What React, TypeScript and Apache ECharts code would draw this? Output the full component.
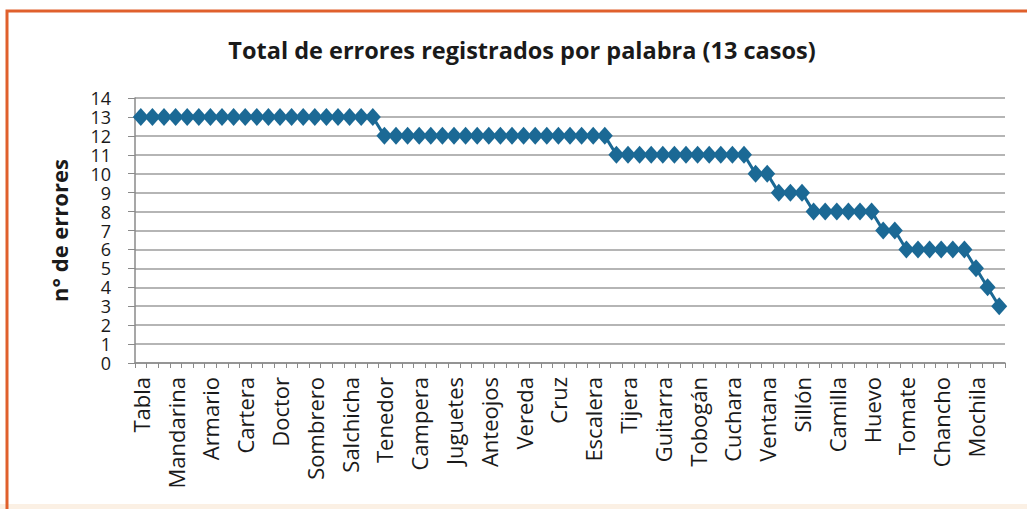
import React, { useEffect, useRef } from "react";
import * as echarts from "echarts";

const TITLE = "Total de errores registrados por palabra (13 casos)";
const Y_NAME = "n° de errores";

// Labelled words (every third category is labelled in the reference)
const LABELLED_WORDS = [
  "Tabla", "Mandarina", "Armario", "Cartera", "Doctor", "Sombrero", "Salchicha",
  "Tenedor", "Campera", "Juguetes", "Anteojos", "Vereda", "Cruz", "Escalera",
  "Tijera", "Guitarra", "Tobogán", "Cuchara", "Ventana", "Sillón", "Camilla",
  "Huevo", "Tomate", "Chancho", "Mochila",
];

// 75 words; unlabelled ones are shown as blanks
const CATEGORIES: string[] = LABELLED_WORDS.flatMap((w) => [w, "", ""]);

const ERRORS = [
  13, 13, 13, 13, 13, 13, 13, 13, 13, 13, 13, 13, 13, 13, 13, 13, 13, 13, 13, 13, 13,
  12, 12, 12, 12, 12, 12, 12, 12, 12, 12, 12, 12, 12, 12, 12, 12, 12, 12, 12, 12,
  11, 11, 11, 11, 11, 11, 11, 11, 11, 11, 11, 11,
  10, 10,
  9, 9, 9,
  8, 8, 8, 8, 8, 8,
  7, 7,
  6, 6, 6, 6, 6, 6,
  5, 4, 3,
];

const Y_MIN = 0;
const Y_MAX = 14;
const Y_STEP = 1;

export default function App() {
  const ref = useRef<HTMLDivElement>(null);
  useEffect(() => {
    if (!ref.current) return;
    const chart = echarts.init(ref.current, undefined, { renderer: "svg" });
    const font = "'Open Sans', 'Noto Sans', sans-serif";
    chart.setOption({
      animation: false,
      backgroundColor: "#ffffff",
      textStyle: { fontFamily: font },
      graphic: [
        {
          type: "rect",
          shape: { x: 0, y: 504, width: 1027, height: 5 },
          style: { fill: "#fbf0e4" },
          silent: true,
        },
        {
          type: "rect",
          shape: { x: 7, y: 11, width: 1040, height: 520 },
          style: { fill: "none", stroke: "#e0602c", lineWidth: 3 },
          silent: true,
        },
        {
          type: "text",
          x: 522,
          y: 50,
          style: {
            text: TITLE,
            font: `bold 23.5px ${font}`,
            fill: "#1a1a1a",
            textAlign: "center",
            textVerticalAlign: "middle",
          },
        },
      ],
      grid: { left: 135, right: 22, top: 98, bottom: 146, containLabel: false },
      xAxis: {
        type: "category",
        data: CATEGORIES,
        boundaryGap: true,
        axisLine: { show: true, lineStyle: { color: "#8a8a8a", width: 1.5 } },
        axisTick: { show: true, interval: 0, length: 5, lineStyle: { color: "#8a8a8a" } },
        axisLabel: {
          interval: 0,
          rotate: 90,
          margin: 14,
          fontSize: 22,
          color: "#1a1a1a",
          fontFamily: font,
        },
        splitLine: { show: false },
      },
      yAxis: {
        type: "value",
        min: Y_MIN,
        max: Y_MAX,
        interval: Y_STEP,
        name: Y_NAME,
        nameLocation: "middle",
        nameRotate: 90,
        nameGap: 65,
        nameTextStyle: { fontSize: 22, fontWeight: "bold", color: "#1a1a1a", fontFamily: font },
        axisLine: { show: true, lineStyle: { color: "#8a8a8a", width: 1.5 } },
        axisTick: { show: true, length: 7, lineStyle: { color: "#8a8a8a" } },
        axisLabel: {
          fontSize: 18,
          lineHeight: 16,
          color: "#1a1a1a",
          margin: 24,
          fontFamily: font,
          showMinLabel: true,
          showMaxLabel: true,
        },
        splitLine: { show: true, lineStyle: { color: "#9c9c9c", width: 1.6 } },
      },
      series: [
        {
          type: "line",
          data: ERRORS,
          symbol: "diamond",
          symbolSize: [16, 18],
          showSymbol: true,
          lineStyle: { color: "#1b6995", width: 3 },
          itemStyle: { color: "#1b6995" },
        },
      ],
    });
    return () => chart.dispose();
  }, []);
  return (
    <div
      ref={ref}
      style={{ position: "fixed", left: 0, top: 0, width: 1027, height: 509 }}
    />
  );
}
